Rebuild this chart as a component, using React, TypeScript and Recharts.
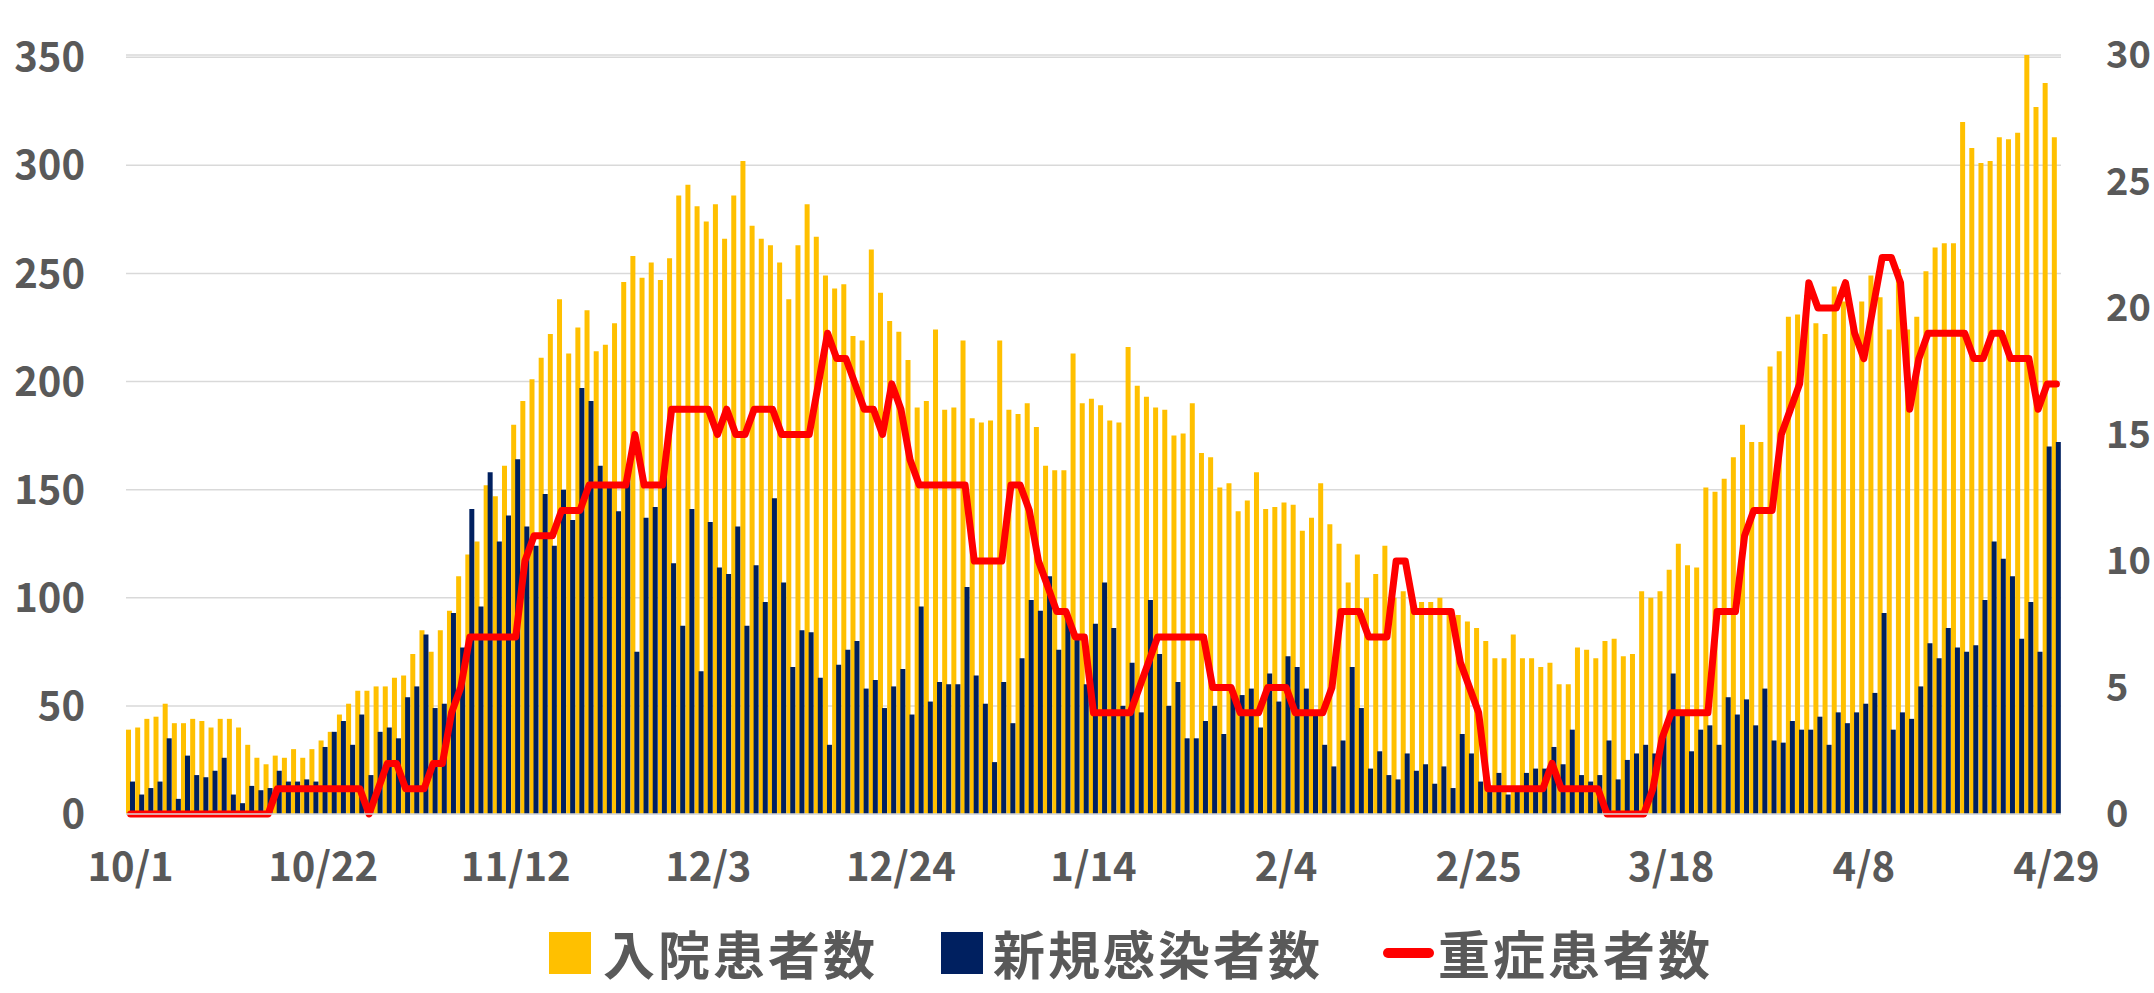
import React from "react";
import { ComposedChart, Bar, Line, XAxis, YAxis, CartesianGrid } from "recharts";

// months covered (Oct 2020 - Apr 2021) and how many days each shows
const months = [10, 11, 12, 1, 2, 3, 4];
const monthDays = [31, 30, 31, 31, 28, 31, 29];

const dates: string[] = [];
months.forEach((m, i) => {
  for (let d = 1; d <= monthDays[i]; d++) dates.push(`${m}/${d}`);
});

const leftTicks = [0, 50, 100, 150, 200, 250, 300, 350];
const rightTicks = [0, 5, 10, 15, 20, 25, 30];

// 入院患者数
const hospitalized = [
  39, 40, 44, 45, 51, 42, 42, 44, 43, 40, 44, 44, 40, 32, 26, 23, 27, 26, 30, 26, 30,
  34, 38, 46, 51, 57, 57, 59, 59, 63, 64, 74, 85, 75, 85, 94, 110, 120, 126, 152, 147, 161,
  180, 191, 201, 211, 222, 238, 213, 225, 233, 214, 217, 227, 246, 258, 248, 255, 247, 257, 286, 291, 281,
  274, 282, 266, 286, 302, 272, 266, 263, 255, 238, 263, 282, 267, 249, 243, 245, 221, 219, 261, 241, 228,
  223, 210, 188, 191, 224, 187, 188, 219, 183, 181, 182, 219, 187, 185, 190, 179, 161, 159, 159, 213, 190,
  192, 189, 182, 181, 216, 198, 193, 188, 187, 175, 176, 190, 167, 165, 151, 153, 140, 145, 158, 141, 142,
  144, 143, 131, 137, 153, 134, 125, 107, 120, 100, 111, 124, 100, 103, 98, 98, 98, 100, 95, 92, 89,
  86, 80, 72, 72, 83, 72, 72, 68, 70, 60, 60, 77, 76, 72, 80, 81, 73, 74, 103, 100, 103,
  113, 125, 115, 114, 151, 149, 155, 165, 180, 172, 172, 207, 214, 230, 231, 240, 227, 222, 244, 237, 230,
  237, 249, 239, 224, 252, 224, 230, 251, 262, 264, 264, 320, 308, 301, 302, 313, 312, 315, 351, 327, 338,
  313,
];

// 新規感染者数
const newCases = [
  15, 9, 12, 15, 35, 7, 27, 18, 17, 20, 26, 9, 5, 13, 11, 12, 20, 15, 15, 16, 15,
  31, 38, 43, 32, 46, 18, 38, 40, 35, 54, 59, 83, 49, 51, 93, 77, 141, 96, 158, 126, 138,
  164, 133, 124, 148, 124, 150, 136, 197, 191, 161, 153, 140, 158, 75, 137, 142, 157, 116, 87, 141, 66,
  135, 114, 111, 133, 87, 115, 98, 146, 107, 68, 85, 84, 63, 32, 69, 76, 80, 58, 62, 49, 59,
  67, 46, 96, 52, 61, 60, 60, 105, 64, 51, 24, 61, 42, 72, 99, 94, 110, 76, 92, 81, 60,
  88, 107, 86, 50, 70, 47, 99, 74, 50, 61, 35, 35, 43, 50, 37, 55, 55, 58, 40, 65, 52,
  73, 68, 58, 46, 32, 22, 34, 68, 49, 21, 29, 18, 16, 28, 20, 23, 14, 22, 12, 37, 28,
  15, 13, 19, 9, 12, 19, 21, 21, 31, 23, 39, 18, 15, 18, 34, 16, 25, 28, 32, 28, 37,
  65, 46, 29, 39, 41, 32, 54, 46, 53, 41, 58, 34, 33, 43, 39, 39, 45, 32, 47, 42, 47,
  51, 56, 93, 39, 47, 44, 59, 79, 72, 86, 77, 75, 78, 99, 126, 118, 110, 81, 98, 75, 170,
  172,
];

// 重症患者数 (right axis)
const severe = [
  0, 0, 0, 0, 0, 0, 0, 0, 0, 0, 0, 0, 0, 0, 0, 0, 1, 1, 1, 1, 1,
  1, 1, 1, 1, 1, 0, 1, 2, 2, 1, 1, 1, 2, 2, 4, 5, 7, 7, 7, 7, 7,
  7, 10, 11, 11, 11, 12, 12, 12, 13, 13, 13, 13, 13, 15, 13, 13, 13, 16, 16, 16, 16,
  16, 15, 16, 15, 15, 16, 16, 16, 15, 15, 15, 15, 17, 19, 18, 18, 17, 16, 16, 15, 17,
  16, 14, 13, 13, 13, 13, 13, 13, 10, 10, 10, 10, 13, 13, 12, 10, 9, 8, 8, 7, 7,
  4, 4, 4, 4, 4, 5, 6, 7, 7, 7, 7, 7, 7, 5, 5, 5, 4, 4, 4, 5, 5,
  5, 4, 4, 4, 4, 5, 8, 8, 8, 7, 7, 7, 10, 10, 8, 8, 8, 8, 8, 6, 5,
  4, 1, 1, 1, 1, 1, 1, 1, 2, 1, 1, 1, 1, 1, 0, 0, 0, 0, 0, 1, 3,
  4, 4, 4, 4, 4, 8, 8, 8, 11, 12, 12, 12, 15, 16, 17, 21, 20, 20, 20, 21, 19,
  18, 20, 22, 22, 21, 16, 18, 19, 19, 19, 19, 19, 18, 18, 19, 19, 18, 18, 18, 16, 17,
  17,
];

const data = dates.map((date, i) => ({
  date,
  hospitalized: hospitalized[i],
  newCases: newCases[i],
  severe: severe[i],
}));

const FONT = '"Noto Sans CJK JP", "Noto Sans", sans-serif';
const tickStyle = { fill: "#595959", fontSize: 40, fontWeight: 700, fontFamily: FONT };

const LegendBox: React.FC = () => (
  <div
    style={{
      position: "absolute",
      left: 549,
      top: 915,
      display: "flex",
      alignItems: "center",
      fontFamily: FONT,
      fontSize: 52,
      fontWeight: 700,
      letterSpacing: 3,
      color: "#595959",
      whiteSpace: "nowrap",
    }}
  >
    <span style={{ width: 42, height: 42, background: "#FFC000", marginRight: 12 }} />
    <span>入院患者数</span>
    <span style={{ width: 42, height: 42, background: "#002060", marginLeft: 63, marginRight: 10 }} />
    <span>新規感染者数</span>
    <span style={{ width: 51, height: 10, borderRadius: 5, background: "#FF0000", marginLeft: 60, marginRight: 4 }} />
    <span>重症患者数</span>
  </div>
);

export default function App() {
  return (
    <div style={{ position: "relative", width: 2154, height: 993, background: "#fff" }}>
      <style>{`body{margin:0}`}</style>
      <ComposedChart
        width={2154}
        height={993}
        data={data}
        margin={{ top: 55, right: 0, left: 0, bottom: 119 }}
        barGap={-1}
      >
        <CartesianGrid vertical={false} stroke="#d9d9d9" strokeWidth={1.5} yAxisId="left" />
        <XAxis
          dataKey="date"
          interval={20}
          height={60}
          tickLine={false}
          tickSize={0}
          tickMargin={39}
          axisLine={{ stroke: "#d9d9d9", strokeWidth: 1.5 }}
          tick={tickStyle}
        />
        <YAxis
          yAxisId="left"
          width={126}
          domain={[0, 350]}
          ticks={leftTicks}
          axisLine={false}
          tickLine={false}
          tickSize={0}
          tickMargin={41}
          tick={tickStyle}
        />
        <YAxis
          yAxisId="right"
          orientation="right"
          width={93}
          domain={[0, 30]}
          ticks={rightTicks}
          axisLine={false}
          tickLine={false}
          tickSize={0}
          tickMargin={45}
          tick={{ ...tickStyle, fontSize: 38, textAnchor: "start" }}
        />
        <Bar yAxisId="left" dataKey="hospitalized" fill="#FFC000" barSize={5} isAnimationActive={false} />
        <Bar yAxisId="left" dataKey="newCases" fill="#002060" barSize={5} isAnimationActive={false} />
        <Line
          yAxisId="right"
          type="linear"
          dataKey="severe"
          stroke="#FF0000"
          strokeWidth={7}
          strokeLinejoin="round"
          strokeLinecap="round"
          dot={false}
          activeDot={false}
          isAnimationActive={false}
        />
      </ComposedChart>
      <LegendBox />
    </div>
  );
}
